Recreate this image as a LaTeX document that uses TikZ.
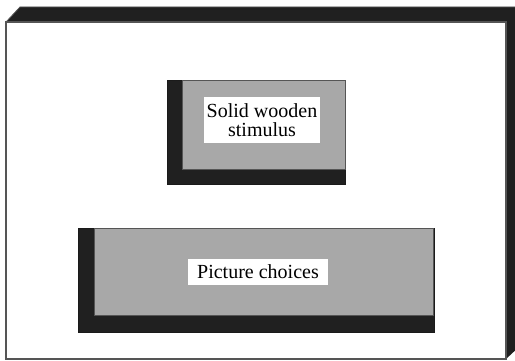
\documentclass[tikz,border=0pt]{standalone}
\usepackage{fontspec}
\setmainfont{Liberation Serif}
\newfontfamily\labelface{Liberation Serif}
\definecolor{slab}{HTML}{202020}
\definecolor{panel}{HTML}{A8A8A8}
\definecolor{rim}{HTML}{555555}
\tikzset{
  slabfill/.style={fill=slab, draw=slab!80!black, line width=0.6pt},
  panelfill/.style={fill=panel, draw=rim, line width=0.5pt},
  labelbox/.style={fill=white, draw=none, inner sep=0pt, align=center,
    font=\labelface\fontsize{20}{19}\selectfont}
}
\begin{document}
\begin{tikzpicture}[x=1pt,y=-1pt]
  \useasboundingbox (0,0) rectangle (515,361);
  % outer tray: depth faces
  \fill[slab] (6,22) -- (20,7) -- (521,7) -- (521,345) -- (506,359) -- cycle;
  \draw[rim, line width=0.8pt] (6,22) -- (20,7) -- (521,7);
  % outer tray: front face
  \draw[fill=white, draw=rim, line width=1.2pt] (6,22) rectangle (506,359);

  % stimulus block
  \draw[slabfill] (167,80) rectangle (345,184);
  \draw[panelfill] (182,80) rectangle (345,169);
  \node[labelbox, minimum width=116pt, minimum height=46pt] (stim) at (262,120)
    {Solid wooden\\stimulus};

  % choice block
  \draw[slabfill] (78,228) rectangle (434,332);
  \draw[panelfill] (94,228) rectangle (433,315);
  \node[labelbox, minimum width=140pt, minimum height=26pt] (choices) at (258,272)
    {Picture choices};
\end{tikzpicture}
\end{document}
